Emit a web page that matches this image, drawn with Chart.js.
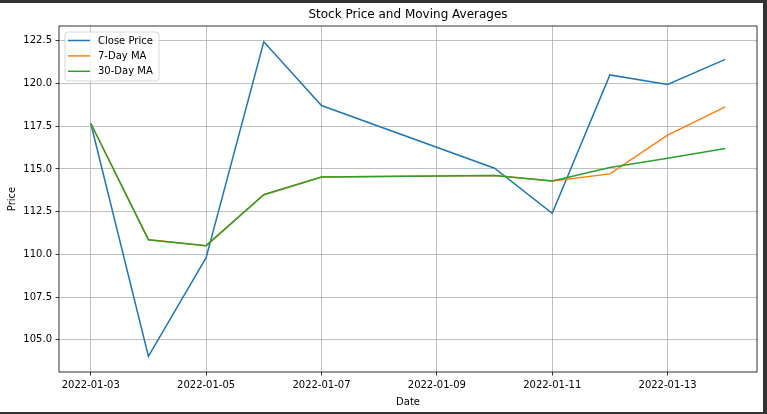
<!DOCTYPE html>
<html>
<head>
<meta charset="utf-8">
<script src="https://cdn.jsdelivr.net/npm/chart.js@4.4.0/dist/chart.umd.min.js"></script>
<style>
  html, body { margin: 0; padding: 0; background: #333; }
  #frame { position: absolute; left: 0; top: 3px; width: 763px; height: 409px; background: #fff; }
</style>
</head>
<body>
<div id="frame"><canvas id="stockChart" width="763" height="409"></canvas></div>
<script>
// Дані графіка
const dates = ['2022-01-03', '2022-01-04', '2022-01-05', '2022-01-06', '2022-01-07',
               '2022-01-10', '2022-01-11', '2022-01-12', '2022-01-13', '2022-01-14'];
const closePrice = [117.67, 104.04, 109.81, 122.44, 118.71, 115.04, 112.40, 120.50, 119.94, 121.41];
const ma7 = [117.67, 110.86, 110.51, 113.49, 114.53, 114.62, 114.30, 114.71, 116.98, 118.63];
const ma30 = [117.67, 110.86, 110.51, 113.49, 114.53, 114.62, 114.30, 115.08, 115.62, 116.20];
const xTickDates = ['2022-01-03', '2022-01-05', '2022-01-07', '2022-01-09', '2022-01-11', '2022-01-13'];
const yTicks = [105.0, 107.5, 110.0, 112.5, 115.0, 117.5, 120.0, 122.5];

const FONT = 'DejaVu Sans';
const DAY = 86400000;
const dayNum = s => Date.parse(s) / DAY;
const fmtDay = v => new Date(Math.round(v) * DAY).toISOString().slice(0, 10);

const xs = dates.map(dayNum);
const xPad = (xs[xs.length - 1] - xs[0]) * 0.05;
const allY = closePrice.concat(ma7, ma30);
const yLo = Math.min(...allY), yHi = Math.max(...allY);
const yPad = (yHi - yLo) * 0.05;

const toPoints = arr => arr.map((v, i) => ({ x: xs[i], y: v }));

// Рамка осей, заголовок і легенда
const decor = {
    id: 'decor',
    afterDatasetsDraw(chart) {
        const { ctx, chartArea: a } = chart;
        ctx.save();
        ctx.strokeStyle = '#000';
        ctx.lineWidth = 0.8;
        ctx.strokeRect(a.left, a.top, a.right - a.left, a.bottom - a.top);
        ctx.restore();
    },
    afterDraw(chart) {
        const { ctx, chartArea: a } = chart;
        ctx.save();
        // заголовок
        ctx.fillStyle = '#000';
        ctx.font = '12px "' + FONT + '"';
        ctx.textAlign = 'center';
        ctx.textBaseline = 'middle';
        ctx.fillText('Stock Price and Moving Averages', (a.left + a.right) / 2, a.top - 11);

        // легенда
        const bx = a.left + 6, by = a.top + 6, bw = 94, bh = 49, r = 3;
        ctx.beginPath();
        ctx.roundRect(bx, by, bw, bh, r);
        ctx.fillStyle = 'rgba(255,255,255,0.8)';
        ctx.fill();
        ctx.strokeStyle = 'rgba(204,204,204,0.8)';
        ctx.lineWidth = 1;
        ctx.stroke();
        ctx.font = '10px "' + FONT + '"';
        ctx.textAlign = 'left';
        chart.data.datasets.forEach((ds, i) => {
            const y = by + 8.5 + i * 15.4;
            ctx.beginPath();
            ctx.moveTo(bx + 3, y);
            ctx.lineTo(bx + 25, y);
            ctx.strokeStyle = ds.borderColor;
            ctx.lineWidth = 1.5;
            ctx.stroke();
            ctx.fillStyle = '#000';
            ctx.fillText(ds.label, bx + 33, y + 0.5);
        });
        ctx.restore();
    }
};

new Chart(document.getElementById('stockChart'), {
    type: 'line',
    data: {
        datasets: [
            { label: 'Close Price', data: toPoints(closePrice), borderColor: '#1f77b4', order: 3 },
            { label: '7-Day MA', data: toPoints(ma7), borderColor: '#ff7f0e', order: 2 },
            { label: '30-Day MA', data: toPoints(ma30), borderColor: '#2ca02c', order: 1 }
        ]
    },
    options: {
        responsive: false,
        animation: false,
        events: [],
        layout: { padding: { top: 23, right: 6, bottom: 0, left: 0 } },
        elements: {
            line: { borderWidth: 1.5, tension: 0, fill: false },
            point: { radius: 0 }
        },
        plugins: {
            legend: { display: false },
            title: { display: false },
            tooltip: { enabled: false }
        },
        scales: {
            x: {
                type: 'linear',
                min: xs[0] - xPad,
                max: xs[xs.length - 1] + xPad,
                afterBuildTicks: s => { s.ticks = xTickDates.map(d => ({ value: dayNum(d) })); },
                afterFit: s => { s.height = 40; },
                grid: { color: '#b0b0b0', lineWidth: 0.8, tickColor: '#000', tickLength: 3.5, tickWidth: 0.8 },
                border: { display: false },
                ticks: {
                    color: '#000', font: { family: FONT, size: 10 }, padding: 3.5,
                    maxRotation: 0, autoSkip: false, callback: v => fmtDay(v)
                },
                title: { display: true, text: 'Date', color: '#000', font: { family: FONT, size: 10 }, padding: { top: 0, bottom: 4 } }
            },
            y: {
                min: yLo - yPad,
                max: yHi + yPad,
                afterBuildTicks: s => { s.ticks = yTicks.map(v => ({ value: v })); },
                afterFit: s => { s.width = 59; },
                grid: { color: '#b0b0b0', lineWidth: 0.8, tickColor: '#000', tickLength: 3.5, tickWidth: 0.8 },
                border: { display: false },
                ticks: {
                    color: '#000', font: { family: FONT, size: 10 }, padding: 3.5,
                    autoSkip: false, callback: v => Number(v).toFixed(1)
                },
                title: { display: true, text: 'Price', color: '#000', font: { family: FONT, size: 10 }, padding: { top: 6, bottom: 0 } }
            }
        }
    },
    plugins: [decor]
});
</script>
</body>
</html>
